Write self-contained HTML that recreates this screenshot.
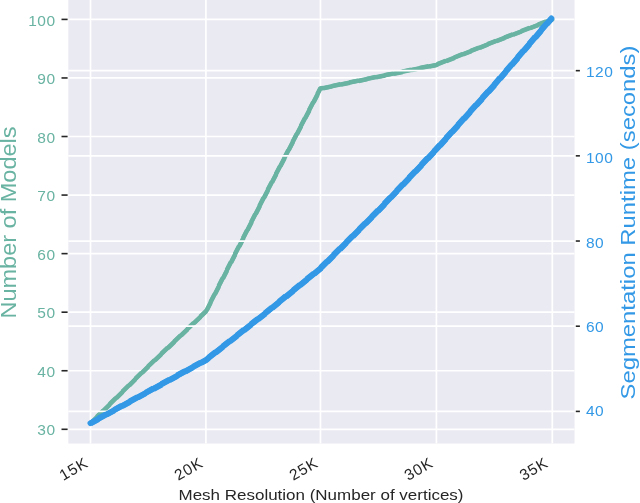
<!DOCTYPE html>
<html><head><meta charset="utf-8"><style>
html,body{margin:0;padding:0;background:#fff;width:640px;height:503px;overflow:hidden;font-family:"Liberation Sans",sans-serif;}
svg{display:block;will-change:transform}
</style></head><body>
<svg width="640" height="503" viewBox="0 0 640 503" font-family="Liberation Sans, sans-serif">
<rect x="68.3" y="-1" width="506.2" height="444.5" fill="#eaeaf2"/>
<g stroke="#fff" stroke-width="1.7"><line x1="90.5" y1="-1" x2="90.5" y2="443.5"/><line x1="205.9" y1="-1" x2="205.9" y2="443.5"/><line x1="320.45" y1="-1" x2="320.45" y2="443.5"/><line x1="436.4" y1="-1" x2="436.4" y2="443.5"/><line x1="552.3" y1="-1" x2="552.3" y2="443.5"/><line x1="68.3" y1="429.30" x2="574.5" y2="429.30"/><line x1="68.3" y1="370.74" x2="574.5" y2="370.74"/><line x1="68.3" y1="312.18" x2="574.5" y2="312.18"/><line x1="68.3" y1="253.63" x2="574.5" y2="253.63"/><line x1="68.3" y1="195.07" x2="574.5" y2="195.07"/><line x1="68.3" y1="136.51" x2="574.5" y2="136.51"/><line x1="68.3" y1="77.96" x2="574.5" y2="77.96"/><line x1="68.3" y1="19.40" x2="574.5" y2="19.40"/></g>
<g fill="none" stroke="#69b3a2" stroke-linejoin="round"><polyline stroke-width="4.3" stroke-linecap="round" points="90.50,423.30 147.90,366.80 205.90,311.60 262.70,199.94 320.45,88.60 378.40,76.70 436.40,64.80 494.35,41.70 552.30,19.40"/><polyline stroke-width="4.3" stroke-dasharray="9 9" points="90.71,423.51 148.11,367.02 206.14,311.78 262.97,200.08 320.63,88.84 378.46,76.99 436.49,65.09 494.46,41.98 552.41,19.68"/><polyline stroke-width="4.3" stroke-dasharray="9 9" stroke-dashoffset="9" points="90.29,423.09 147.69,366.58 205.66,311.42 262.43,199.80 320.27,88.36 378.34,76.41 436.31,64.51 494.24,41.42 552.19,19.12"/></g>
<g stroke="#fff" stroke-width="1.7"><line x1="68.3" y1="411.40" x2="574.5" y2="411.40"/><line x1="68.3" y1="326.21" x2="574.5" y2="326.21"/><line x1="68.3" y1="241.03" x2="574.5" y2="241.03"/><line x1="68.3" y1="155.84" x2="574.5" y2="155.84"/><line x1="68.3" y1="70.66" x2="574.5" y2="70.66"/></g>
<g fill="none" stroke="#3399e6" stroke-linejoin="round"><polyline stroke-width="5.8" stroke-linecap="round" points="90.40,423.20 205.90,360.00 262.90,315.20 320.45,268.40 378.40,210.40 436.40,149.20 494.00,85.30 551.40,18.40"/><polyline stroke-width="5.8" stroke-dasharray="9 9" points="90.54,423.46 206.07,360.25 263.09,315.43 320.65,268.62 378.62,210.61 436.62,149.40 494.23,85.50 551.63,18.60"/><polyline stroke-width="5.8" stroke-dasharray="9 9" stroke-dashoffset="9" points="90.26,422.94 205.73,359.75 262.71,314.97 320.25,268.18 378.18,210.19 436.18,149.00 493.77,85.10 551.17,18.20"/></g>
<g stroke="#262626" stroke-width="1.6"><line x1="61.5" y1="429.30" x2="67.6" y2="429.30"/><line x1="61.5" y1="370.74" x2="67.6" y2="370.74"/><line x1="61.5" y1="312.18" x2="67.6" y2="312.18"/><line x1="61.5" y1="253.63" x2="67.6" y2="253.63"/><line x1="61.5" y1="195.07" x2="67.6" y2="195.07"/><line x1="61.5" y1="136.51" x2="67.6" y2="136.51"/><line x1="61.5" y1="77.96" x2="67.6" y2="77.96"/><line x1="61.5" y1="19.40" x2="67.6" y2="19.40"/><line x1="575.8" y1="411.40" x2="579.9" y2="411.40"/><line x1="575.8" y1="326.21" x2="579.9" y2="326.21"/><line x1="575.8" y1="241.03" x2="579.9" y2="241.03"/><line x1="575.8" y1="155.84" x2="579.9" y2="155.84"/><line x1="575.8" y1="70.66" x2="579.9" y2="70.66"/></g>
<g fill="#69b3a2" font-size="15.5" letter-spacing="0.45"><text x="55.5" y="435.40" text-anchor="end">30</text><text x="55.5" y="376.84" text-anchor="end">40</text><text x="55.5" y="318.28" text-anchor="end">50</text><text x="55.5" y="259.73" text-anchor="end">60</text><text x="55.5" y="201.17" text-anchor="end">70</text><text x="55.5" y="142.61" text-anchor="end">80</text><text x="55.5" y="84.06" text-anchor="end">90</text><text x="55.5" y="25.50" text-anchor="end">100</text></g>
<g fill="#3399e6" font-size="15.5" letter-spacing="0.45"><text x="586.0" y="416.30">40</text><text x="586.0" y="332.01">60</text><text x="586.0" y="248.03">80</text><text x="586.0" y="162.74">100</text><text x="586.0" y="77.36">120</text></g>
<g fill="#262626" font-size="15.5" letter-spacing="0.9"><text transform="translate(89.5,465.8) rotate(-30)" x="0" y="0" text-anchor="end">15K</text><text transform="translate(204.5,465.8) rotate(-30)" x="0" y="0" text-anchor="end">20K</text><text transform="translate(319.45,465.8) rotate(-30)" x="0" y="0" text-anchor="end">25K</text><text transform="translate(434.4,465.8) rotate(-30)" x="0" y="0" text-anchor="end">30K</text><text transform="translate(549.5999999999999,465.8) rotate(-30)" x="0" y="0" text-anchor="end">35K</text></g>
<text x="178.5" y="500.3" font-size="15" fill="#262626" textLength="285" lengthAdjust="spacingAndGlyphs">Mesh Resolution (Number of vertices)</text>
<text transform="translate(15.7,318.5) rotate(-90)" font-size="22" fill="#69b3a2" textLength="192" lengthAdjust="spacingAndGlyphs">Number of Models</text>
<text transform="translate(635,399.5) rotate(-90)" font-size="20" fill="#3399e6" textLength="354" lengthAdjust="spacingAndGlyphs">Segmentation Runtime (seconds)</text>
</svg>
</body></html>
